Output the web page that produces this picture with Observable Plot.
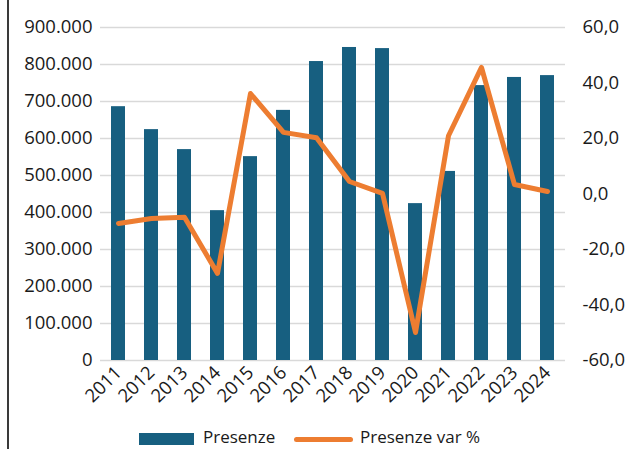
<!DOCTYPE html>
<html>
<head>
<meta charset="utf-8">
<script src="https://cdn.jsdelivr.net/npm/d3@7"></script>
<script src="https://cdn.jsdelivr.net/npm/@observablehq/plot@0.6"></script>
<style>
  html, body { margin: 0; padding: 0; background: #fff; }
  #wrap { position: relative; width: 627px; height: 449px; overflow: hidden; font-family: "Open Sans", sans-serif; }
  #frame { position: absolute; left: 7px; top: 0; width: 1.5px; height: 449px; background: #3a3a3a; }
  .lg { position: absolute; font-size: 17px; color: #1a1a1a; line-height: 1; white-space: nowrap; }
</style>
</head>
<body>
<div id="wrap">
  <div id="chart"></div>
  <div id="frame"></div>
  <div class="lg" style="left:139px; top:433px; width:55px; height:12px; background:#175f80;"></div>
  <div class="lg" style="left:203px; top:428px;">Presenze</div>
  <div class="lg" style="left:294px; top:437px; width:59px; height:5px; border-radius:3px; background:#ed7d31;"></div>
  <div class="lg" style="left:360px; top:428px;">Presenze var %</div>
</div>
<script>
const years = ["2011","2012","2013","2014","2015","2016","2017","2018","2019","2020","2021","2022","2023","2024"];
const presenze = [686000, 624000, 570000, 405000, 551000, 676000, 808000, 846000, 843000, 424000, 511000, 743000, 765000, 770000];
const presenzeVar = [-10.6, -8.8, -8.4, -28.6, 36.2, 22.2, 20.3, 4.5, 0.2, -49.9, 21.0, 45.6, 3.4, 0.9];
const leftTicks = [0, 100000, 200000, 300000, 400000, 500000, 600000, 700000, 800000, 900000];
const rightTicks = [-60, -40, -20, 0, 20, 40, 60];

const LMAX = 900000, RMIN = -60, RMAX = 60;
const toLeft = p => (p - RMIN) / (RMAX - RMIN) * LMAX;
const toRight = v => Math.round((v / LMAX * (RMAX - RMIN) + RMIN) * 10) / 10;
const fmtLeft = v => v === 0 ? "0" : d3.format(",")(v).replace(/,/g, ".");
const fmtRight = v => toRight(v).toFixed(1).replace(".", ",");

const chart = Plot.plot({
  width: 627,
  height: 449,
  marginTop: 27,
  marginBottom: 89,
  marginLeft: 100,
  marginRight: 62,
  style: { fontFamily: "Open Sans, sans-serif", fontSize: "18.5px", color: "#1a1a1a", background: "transparent" },
  x: { domain: years, paddingInner: 0.58, paddingOuter: 0.29 },
  y: { domain: [0, LMAX] },
  marks: [
    Plot.gridY(leftTicks, { stroke: "#d9d9d9", strokeOpacity: 1, strokeWidth: 1.3 }),
    Plot.axisY({ ticks: leftTicks, tickSize: 0, tickPadding: 8, tickFormat: fmtLeft, label: null }),
    Plot.axisY({ anchor: "right", ticks: rightTicks.map(toLeft), tickSize: 0, tickPadding: 17, tickFormat: fmtRight, label: null }),
    Plot.barY(years, { x: years, y: presenze, fill: "#175f80" }),
    Plot.line(years, { x: years, y: presenzeVar.map(toLeft), stroke: "#ed7d31", strokeWidth: 5, strokeLinejoin: "round", strokeLinecap: "round" }),
    Plot.axisX({ tickSize: 0, tickRotate: -45, tickPadding: 9, label: null })
  ]
});
document.getElementById("chart").appendChild(chart);
</script>
</body>
</html>
